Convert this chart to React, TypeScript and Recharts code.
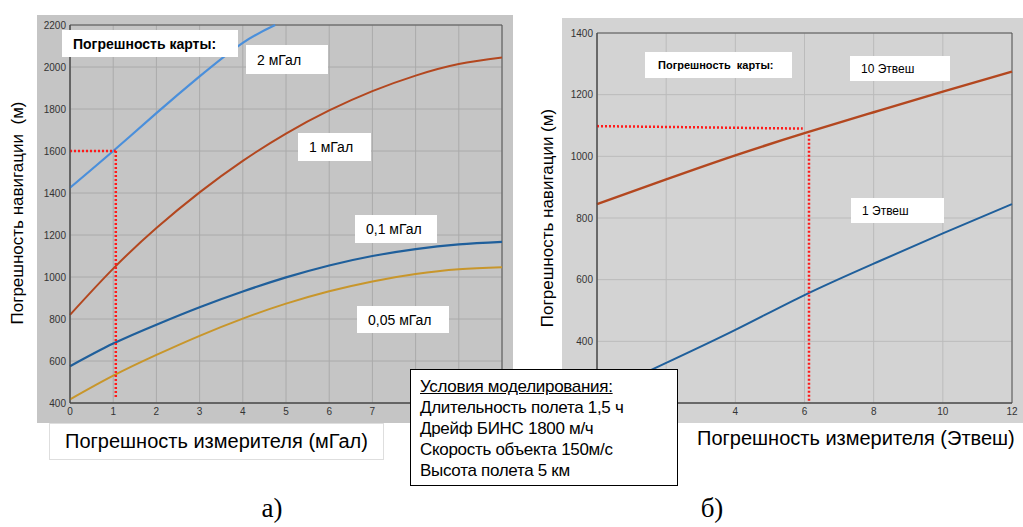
import React from 'react';
import { LineChart, Line, XAxis, YAxis, CartesianGrid, ReferenceLine, ReferenceArea } from 'recharts';

// left panel (a): navigation error vs gravimeter error, mGal
const leftX = [0, 1, 2, 3, 4, 5, 6, 7, 8, 9, 10];
const leftTicksX = [0, 1, 2, 3, 4, 5, 6, 7, 8, 9, 10];
const leftTicksY = [400, 600, 800, 1000, 1200, 1400, 1600, 1800, 2000, 2200];
const x2mGal = [0, 1, 2, 3, 4, 4.75];
const err2mGal = [1425, 1600, 1780, 1955, 2115, 2200];
const err1mGal = [820, 1040, 1233, 1403, 1553, 1683, 1793, 1885, 1959, 2014, 2045];
const err01mGal = [575, 683, 773, 856, 931, 998, 1055, 1100, 1133, 1155, 1167];
const err005mGal = [417, 530, 629, 720, 802, 873, 932, 979, 1014, 1037, 1047];

// right panel (b): navigation error vs gradiometer error, Eotvos
const rightX = [0, 2, 4, 6, 8, 10, 12];
const rightTicksY = [200, 400, 600, 800, 1000, 1200, 1400];
const err10Etv = [845, 925, 1003, 1075, 1143, 1210, 1275];
const err1Etv = [225, 330, 437, 550, 652, 750, 845];

const conditions = [
  'Длительность полета 1,5 ч',
  'Дрейф БИНС 1800 м/ч',
  'Скорость объекта 150м/с',
  'Высота полета 5 км',
];

const toPoints = (xs: number[], ys: number[]) => ys.map((y, i) => ({ x: xs[i], y }));

const tickStyle = { fontSize: 10, fill: '#333', fontFamily: 'Liberation Sans' };
const font = '"Liberation Sans", Arial, sans-serif';

// labels hidden under the conditions box in the original
const leftXLabel = (v: number) => (v >= 8 ? '' : String(v));
const rightXLabel = (v: number) => (v <= 2 ? '' : String(v));
const rightYLabel = (v: number) => (v <= 200 ? '' : String(v));

const Label: React.FC<{ left: number; top: number; w: number; h: number; size: number; bold?: boolean; pad?: number; children: React.ReactNode }> = ({ left, top, w, h, size, bold, pad = 11, children }) => (
  <div
    style={{
      position: 'absolute', left, top, width: w, height: h, background: '#fff',
      display: 'flex', alignItems: 'center', paddingLeft: pad, boxSizing: 'border-box',
      fontSize: size, fontWeight: bold ? 'bold' : 'normal', color: '#000', whiteSpace: 'pre',
    }}
  >
    {children}
  </div>
);

const App: React.FC = () => {
  return (
    <div style={{ position: 'absolute', left: 0, top: 0, width: 1023, height: 527, background: '#fff', fontFamily: font, overflow: 'hidden' }}>
      {/* panel a */}
      <div style={{ position: 'absolute', left: 37, top: 15, background: '#c5c5c5' }}>
        <LineChart width={476} height={408} margin={{ top: 10, right: 11, left: 0, bottom: 0 }}>
          <CartesianGrid stroke="#aaaaaa" strokeWidth={1} />
          <XAxis type="number" dataKey="x" domain={[0, 10]} ticks={leftTicksX} height={20} tickFormatter={leftXLabel}
            tick={tickStyle} tickSize={0} tickMargin={5} axisLine={{ stroke: '#444' }} />
          <YAxis type="number" dataKey="y" domain={[400, 2200]} ticks={leftTicksY} width={33}
            tick={tickStyle} tickSize={0} tickMargin={4} axisLine={{ stroke: '#444' }} />
          <ReferenceArea x1={0} x2={10} y1={400} y2={2200} fill="none" stroke="#555" />
          <Line data={toPoints(x2mGal, err2mGal)} dataKey="y" type="natural" stroke="#4a8fdb" strokeWidth={2.2} dot={false} isAnimationActive={false} />
          <Line data={toPoints(leftX, err1mGal)} dataKey="y" type="natural" stroke="#b3471f" strokeWidth={2} dot={false} isAnimationActive={false} />
          <Line data={toPoints(leftX, err01mGal)} dataKey="y" type="natural" stroke="#1f5f9b" strokeWidth={2.2} dot={false} isAnimationActive={false} />
          <Line data={toPoints(leftX, err005mGal)} dataKey="y" type="natural" stroke="#c8962b" strokeWidth={2} dot={false} isAnimationActive={false} />
          <ReferenceLine segment={[{ x: 0, y: 1600 }, { x: 1.06, y: 1600 }]} stroke="#ff1a1a" strokeWidth={2.5} strokeDasharray="2 2" />
          <ReferenceLine segment={[{ x: 1.06, y: 1600 }, { x: 1.06, y: 420 }]} stroke="#ff1a1a" strokeWidth={2.5} strokeDasharray="2 2" />
        </LineChart>
      </div>

      {/* panel b */}
      <div style={{ position: 'absolute', left: 562, top: 18, background: '#d3d3d3' }}>
        <LineChart width={461} height={405} margin={{ top: 15, right: 11, left: 0, bottom: 0 }}>
          <CartesianGrid stroke="#bbbbbb" strokeWidth={1} />
          <XAxis type="number" dataKey="x" domain={[0, 12]} ticks={rightX} height={20} tickFormatter={rightXLabel}
            tick={tickStyle} tickSize={0} tickMargin={5} axisLine={{ stroke: '#444' }} />
          <YAxis type="number" dataKey="y" domain={[200, 1400]} ticks={rightTicksY} width={35} tickFormatter={rightYLabel}
            tick={tickStyle} tickSize={0} tickMargin={4} axisLine={{ stroke: '#444' }} />
          <ReferenceArea x1={0} x2={12} y1={200} y2={1400} fill="none" stroke="#555" />
          <Line data={toPoints(rightX, err10Etv)} dataKey="y" type="natural" stroke="#b3471f" strokeWidth={2.4} dot={false} isAnimationActive={false} />
          <Line data={toPoints(rightX, err1Etv)} dataKey="y" type="natural" stroke="#1f5f9b" strokeWidth={2} dot={false} isAnimationActive={false} />
          <ReferenceLine segment={[{ x: 0, y: 1098 }, { x: 5.95, y: 1090 }]} stroke="#ff1a1a" strokeWidth={2.5} strokeDasharray="2 2" />
          <ReferenceLine segment={[{ x: 6.13, y: 1070 }, { x: 6.13, y: 200 }]} stroke="#ff1a1a" strokeWidth={2.5} strokeDasharray="2 2" />
        </LineChart>
      </div>

      {/* curve labels, panel a */}
      <Label left={62} top={30} w={176} h={27} size={14} bold>Погрешность карты:</Label>
      <Label left={246} top={45} w={82} h={29} size={14}>2 мГал</Label>
      <Label left={298} top={133} w={73} h={28} size={14}>1 мГал</Label>
      <Label left={355} top={215} w={82} h={28} size={14}>0,1 мГал</Label>
      <Label left={357} top={306} w={92} h={27} size={14}>0,05 мГал</Label>

      {/* curve labels, panel b */}
      <Label left={645} top={52} w={147} h={26} size={11} bold pad={13}>Погрешность  карты:</Label>
      <Label left={850} top={56} w={100} h={25} size={12}>10 Этвеш</Label>
      <Label left={851} top={198} w={93} h={25} size={12}>1 Этвеш</Label>

      {/* axis titles */}
      <div style={{ position: 'absolute', left: 18, top: 213, transform: 'translate(-50%, -50%) rotate(-90deg)', fontSize: 17, whiteSpace: 'pre' }}>
        Погрешность навигации  (м)
      </div>
      <div style={{ position: 'absolute', left: 548, top: 218, transform: 'translate(-50%, -50%) rotate(-90deg)', fontSize: 17, whiteSpace: 'pre' }}>
        Погрешность навигации (м)
      </div>
      <div style={{ position: 'absolute', left: 49, top: 423, width: 335, height: 37, border: '1px solid #dedede', boxSizing: 'border-box', background: '#fff', display: 'flex', alignItems: 'center', justifyContent: 'center', fontSize: 20 }}>
        Погрешность измерителя (мГал)
      </div>
      <div style={{ position: 'absolute', left: 697, top: 427, fontSize: 20, whiteSpace: 'pre' }}>
        Погрешность измерителя (Этвеш)
      </div>

      {/* simulation conditions */}
      <div style={{ position: 'absolute', left: 410, top: 369, width: 268, height: 117, border: '1.5px solid #000', boxSizing: 'border-box', background: '#fff', padding: '6px 0 0 9px', fontSize: 17, lineHeight: '21px', letterSpacing: -0.3 }}>
        <div style={{ textDecoration: 'underline' }}>Условия моделирования:</div>
        {conditions.map((c) => (
          <div key={c}>{c}</div>
        ))}
      </div>

      {/* captions */}
      <div style={{ position: 'absolute', left: 272, top: 508, transform: 'translate(-50%, -50%)', fontFamily: '"Liberation Serif", serif', fontSize: 27 }}>а)</div>
      <div style={{ position: 'absolute', left: 712, top: 508, transform: 'translate(-50%, -50%)', fontFamily: '"Liberation Serif", serif', fontSize: 27 }}>б)</div>
    </div>
  );
};

export default App;
